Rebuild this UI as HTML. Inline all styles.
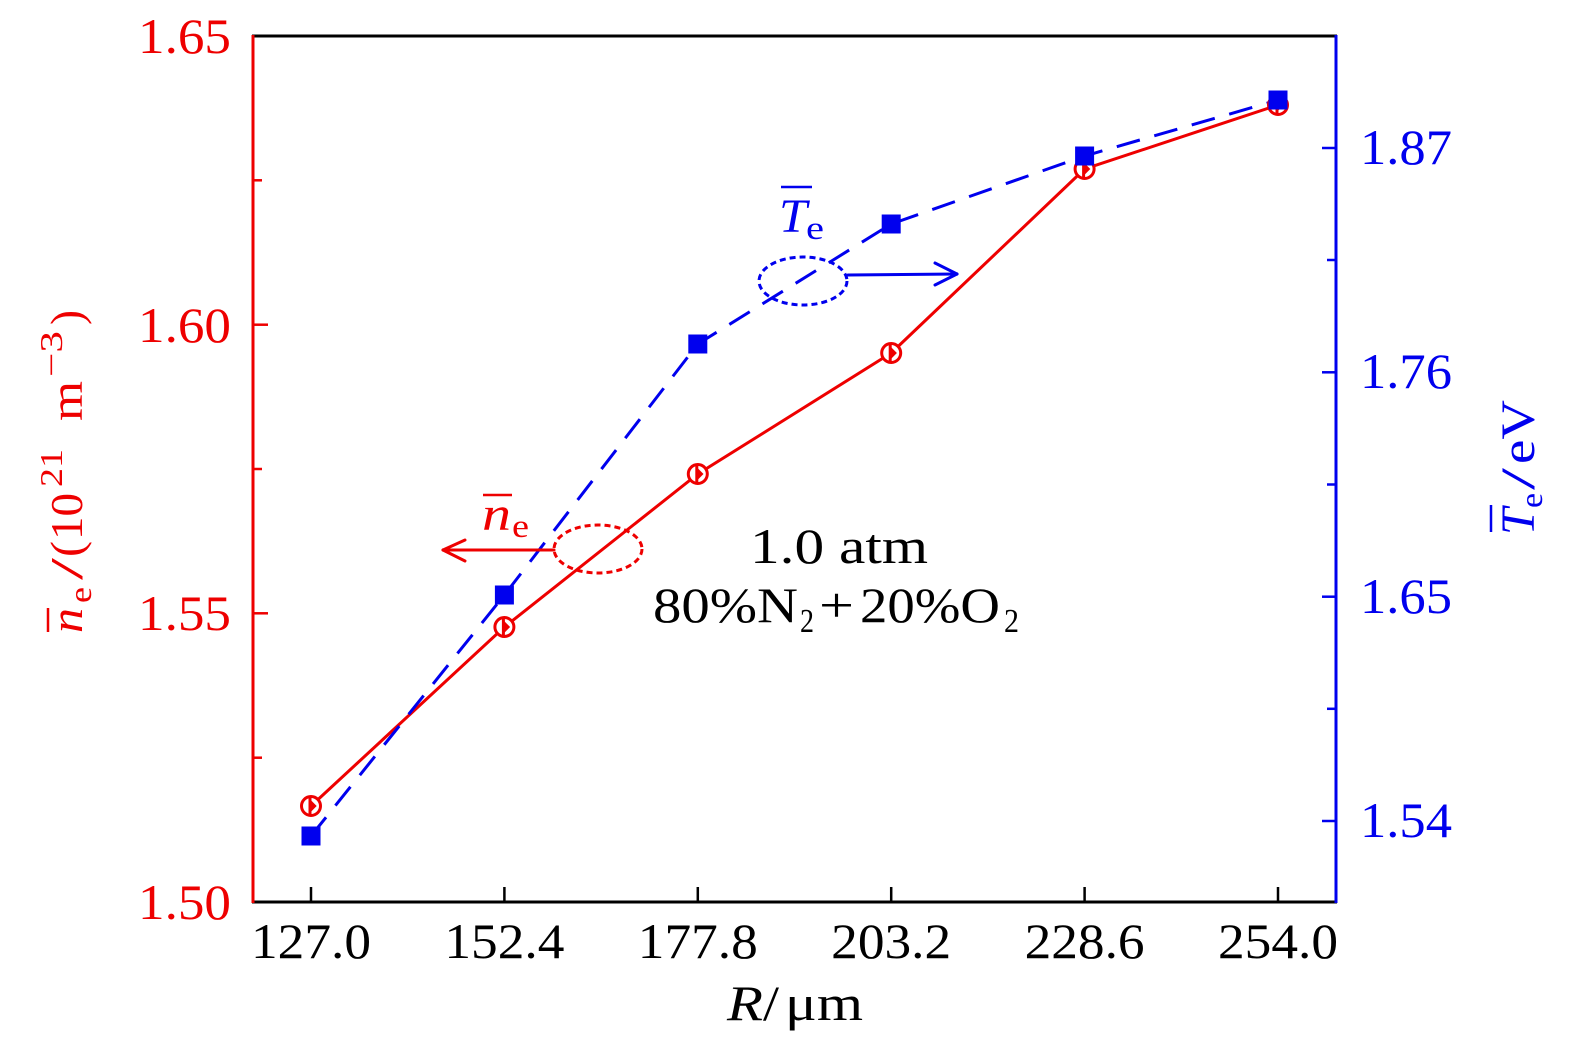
<!DOCTYPE html>
<html>
<head>
<meta charset="utf-8">
<style>
  html, body { margin: 0; padding: 0; background: #ffffff; }
  svg { display: block; }
  text { font-family: "Liberation Serif", "DejaVu Serif", serif; }
</style>
</head>
<body>
<svg width="1575" height="1053" viewBox="0 0 1575 1053" xmlns="http://www.w3.org/2000/svg">
  <rect width="1575" height="1053" fill="#ffffff"/>

  <!-- axes frame -->
  <line x1="252" y1="36" x2="1337" y2="36" stroke="#000" stroke-width="3"/>
  <line x1="252" y1="902" x2="1337" y2="902" stroke="#000" stroke-width="3"/>
  <line x1="253" y1="35" x2="253" y2="903" stroke="#ee0000" stroke-width="3"/>
  <line x1="1336" y1="35" x2="1336" y2="903" stroke="#0000ee" stroke-width="3"/>

  <!-- bottom ticks -->
  <g stroke="#000" stroke-width="2.5">
    <line x1="311" y1="902" x2="311" y2="887"/>
    <line x1="504.4" y1="902" x2="504.4" y2="887"/>
    <line x1="697.8" y1="902" x2="697.8" y2="887"/>
    <line x1="891.2" y1="902" x2="891.2" y2="887"/>
    <line x1="1084.6" y1="902" x2="1084.6" y2="887"/>
    <line x1="1278" y1="902" x2="1278" y2="887"/>
  </g>

  <!-- left ticks -->
  <g stroke="#ee0000" stroke-width="2.5">
    <line x1="253" y1="324.7" x2="268" y2="324.7"/>
    <line x1="253" y1="613.3" x2="268" y2="613.3"/>
    <line x1="253" y1="180.3" x2="262" y2="180.3"/>
    <line x1="253" y1="469" x2="262" y2="469"/>
    <line x1="253" y1="757.7" x2="262" y2="757.7"/>
  </g>

  <!-- right ticks -->
  <g stroke="#0000ee" stroke-width="2.5">
    <line x1="1336" y1="148" x2="1322" y2="148"/>
    <line x1="1336" y1="372.3" x2="1322" y2="372.3"/>
    <line x1="1336" y1="596.7" x2="1322" y2="596.7"/>
    <line x1="1336" y1="821" x2="1322" y2="821"/>
    <line x1="1336" y1="260" x2="1327" y2="260"/>
    <line x1="1336" y1="484.5" x2="1327" y2="484.5"/>
    <line x1="1336" y1="708.8" x2="1327" y2="708.8"/>
  </g>

  <!-- left tick labels -->
  <g fill="#ee0000" font-size="50" text-anchor="end">
    <text x="231" y="53" textLength="93" lengthAdjust="spacingAndGlyphs">1.65</text>
    <text x="231" y="342" textLength="93" lengthAdjust="spacingAndGlyphs">1.60</text>
    <text x="231" y="630" textLength="93" lengthAdjust="spacingAndGlyphs">1.55</text>
    <text x="231" y="919" textLength="93" lengthAdjust="spacingAndGlyphs">1.50</text>
  </g>

  <!-- right tick labels -->
  <g fill="#0000ee" font-size="50">
    <text x="1360" y="164" textLength="92" lengthAdjust="spacingAndGlyphs">1.87</text>
    <text x="1360" y="388" textLength="92" lengthAdjust="spacingAndGlyphs">1.76</text>
    <text x="1360" y="613" textLength="92" lengthAdjust="spacingAndGlyphs">1.65</text>
    <text x="1360" y="837" textLength="92" lengthAdjust="spacingAndGlyphs">1.54</text>
  </g>

  <!-- bottom tick labels -->
  <g fill="#000" font-size="50" text-anchor="middle">
    <text x="311" y="958" textLength="120" lengthAdjust="spacingAndGlyphs">127.0</text>
    <text x="504.4" y="958" textLength="120" lengthAdjust="spacingAndGlyphs">152.4</text>
    <text x="697.8" y="958" textLength="120" lengthAdjust="spacingAndGlyphs">177.8</text>
    <text x="891.2" y="958" textLength="120" lengthAdjust="spacingAndGlyphs">203.2</text>
    <text x="1084.6" y="958" textLength="120" lengthAdjust="spacingAndGlyphs">228.6</text>
    <text x="1278" y="958" textLength="120" lengthAdjust="spacingAndGlyphs">254.0</text>
  </g>

  <!-- x label -->
  <g fill="#000" font-size="50">
    <text x="727" y="1020" font-style="italic" textLength="36" lengthAdjust="spacingAndGlyphs">R</text>
    <text x="763" y="1020" textLength="16" lengthAdjust="spacingAndGlyphs">/</text>
    <text x="785" y="1020" textLength="78" lengthAdjust="spacingAndGlyphs">μm</text>
  </g>

  <!-- left y label (rotated) -->
  <g transform="translate(82,633) rotate(-90)" fill="#ee0000">
    <text x="0" y="0" font-size="46" font-style="italic" textLength="25" lengthAdjust="spacingAndGlyphs">n</text>
    <line x1="1" y1="-34" x2="25" y2="-34" stroke="#ee0000" stroke-width="2.5"/>
    <text x="30" y="9" font-size="32" textLength="16" lengthAdjust="spacingAndGlyphs">e</text>
    <text x="53" y="0" font-size="46" textLength="22" lengthAdjust="spacingAndGlyphs">/</text>
    <text x="76" y="0" font-size="46" textLength="16" lengthAdjust="spacingAndGlyphs">(</text>
    <text x="93" y="0" font-size="46" textLength="47" lengthAdjust="spacingAndGlyphs">10</text>
    <text x="146" y="-20" font-size="32" textLength="38" lengthAdjust="spacingAndGlyphs">21</text>
    <text x="212" y="0" font-size="46" textLength="40" lengthAdjust="spacingAndGlyphs">m</text>
    <text x="256" y="-20" font-size="32" textLength="46" lengthAdjust="spacingAndGlyphs">−3</text>
    <text x="308" y="0" font-size="46" textLength="15" lengthAdjust="spacingAndGlyphs">)</text>
  </g>

  <!-- right y label (rotated) -->
  <g transform="translate(1534,535) rotate(-90)" fill="#0000ee">
    <text x="0" y="0" font-size="48" font-style="italic" textLength="27" lengthAdjust="spacingAndGlyphs">T</text>
    <line x1="3" y1="-43" x2="30" y2="-43" stroke="#0000ee" stroke-width="2.5"/>
    <text x="27" y="8" font-size="32" textLength="15" lengthAdjust="spacingAndGlyphs">e</text>
    <text x="45" y="0" font-size="48" textLength="22" lengthAdjust="spacingAndGlyphs">/</text>
    <text x="71" y="0" font-size="48" textLength="64" lengthAdjust="spacingAndGlyphs">eV</text>
  </g>

  <!-- data lines -->
  <polyline points="311,806 504.4,627 697.8,474 891.2,353 1084.6,169 1278,105"
            fill="none" stroke="#ee0000" stroke-width="3"/>
  <polyline points="311,836 504.4,595 697.8,344 891.2,224 1084.6,156 1278,100"
            fill="none" stroke="#0000ee" stroke-width="3" stroke-dasharray="24 15"/>

  <!-- red circle markers -->
  <g stroke="#ee0000" stroke-width="3" fill="#ffffff">
    <g transform="translate(311,806)"><circle r="9.5"/><line x1="-1" y1="-9" x2="-1" y2="9"/><path d="M0,-5 L5,0 L0,5 Z" fill="#ee0000" stroke-width="1"/></g>
    <g transform="translate(504.4,627)"><circle r="9.5"/><line x1="-1" y1="-9" x2="-1" y2="9"/><path d="M0,-5 L5,0 L0,5 Z" fill="#ee0000" stroke-width="1"/></g>
    <g transform="translate(697.8,474)"><circle r="9.5"/><line x1="-1" y1="-9" x2="-1" y2="9"/><path d="M0,-5 L5,0 L0,5 Z" fill="#ee0000" stroke-width="1"/></g>
    <g transform="translate(891.2,353)"><circle r="9.5"/><line x1="-1" y1="-9" x2="-1" y2="9"/><path d="M0,-5 L5,0 L0,5 Z" fill="#ee0000" stroke-width="1"/></g>
    <g transform="translate(1084.6,169)"><circle r="9.5"/><line x1="-1" y1="-9" x2="-1" y2="9"/><path d="M0,-5 L5,0 L0,5 Z" fill="#ee0000" stroke-width="1"/></g>
    <g transform="translate(1278,105)"><circle r="9.5"/><line x1="-1" y1="-9" x2="-1" y2="9"/><path d="M0,-5 L5,0 L0,5 Z" fill="#ee0000" stroke-width="1"/></g>
  </g>

  <!-- blue square markers -->
  <g fill="#0000ee">
    <rect x="301.5" y="826.5" width="19" height="19"/>
    <rect x="494.9" y="585.5" width="19" height="19"/>
    <rect x="688.3" y="334.5" width="19" height="19"/>
    <rect x="881.7" y="214.5" width="19" height="19"/>
    <rect x="1075.1" y="146.5" width="19" height="19"/>
    <rect x="1268.5" y="90.5" width="19" height="19"/>
  </g>

  <!-- red annotation: ellipse + arrow -->
  <ellipse cx="598" cy="549" rx="44" ry="24" fill="none" stroke="#ee0000" stroke-width="3" stroke-dasharray="6 4"/>
  <g stroke="#ee0000" stroke-width="3" fill="none" stroke-linecap="round">
    <line x1="554" y1="550" x2="443" y2="550"/>
    <line x1="443" y1="550" x2="465" y2="540"/>
    <line x1="443" y1="550" x2="465" y2="561"/>
  </g>
  <g fill="#ee0000">
    <text x="482" y="530" font-size="48" font-style="italic" textLength="29" lengthAdjust="spacingAndGlyphs">n</text>
    <line x1="483" y1="495" x2="512" y2="495" stroke="#ee0000" stroke-width="2.5"/>
    <text x="512" y="537" font-size="33" textLength="17" lengthAdjust="spacingAndGlyphs">e</text>
  </g>

  <!-- blue annotation: ellipse + arrow -->
  <ellipse cx="803" cy="281" rx="44" ry="24" fill="none" stroke="#0000ee" stroke-width="3" stroke-dasharray="6 4"/>
  <g stroke="#0000ee" stroke-width="3" fill="none" stroke-linecap="round">
    <line x1="848" y1="275" x2="957" y2="274"/>
    <line x1="957" y1="274" x2="935" y2="263"/>
    <line x1="957" y1="274" x2="935" y2="285"/>
  </g>
  <g fill="#0000ee">
    <text x="779" y="232" font-size="48" font-style="italic" textLength="28" lengthAdjust="spacingAndGlyphs">T</text>
    <line x1="781" y1="187" x2="812" y2="187" stroke="#0000ee" stroke-width="2.5"/>
    <text x="806" y="239" font-size="33" textLength="18" lengthAdjust="spacingAndGlyphs">e</text>
  </g>

  <!-- condition text -->
  <g fill="#000" font-size="50">
    <text x="750" y="563" textLength="178" lengthAdjust="spacingAndGlyphs">1.0 atm</text>
    <text x="653" y="622" textLength="145" lengthAdjust="spacingAndGlyphs">80%N</text>
    <text x="800" y="632" font-size="34" textLength="14" lengthAdjust="spacingAndGlyphs">2</text>
    <text x="819" y="622" textLength="35" lengthAdjust="spacingAndGlyphs">+</text>
    <text x="860" y="622" textLength="140" lengthAdjust="spacingAndGlyphs">20%O</text>
    <text x="1004" y="632" font-size="34" textLength="15" lengthAdjust="spacingAndGlyphs">2</text>
  </g>
</svg>
</body>
</html>
